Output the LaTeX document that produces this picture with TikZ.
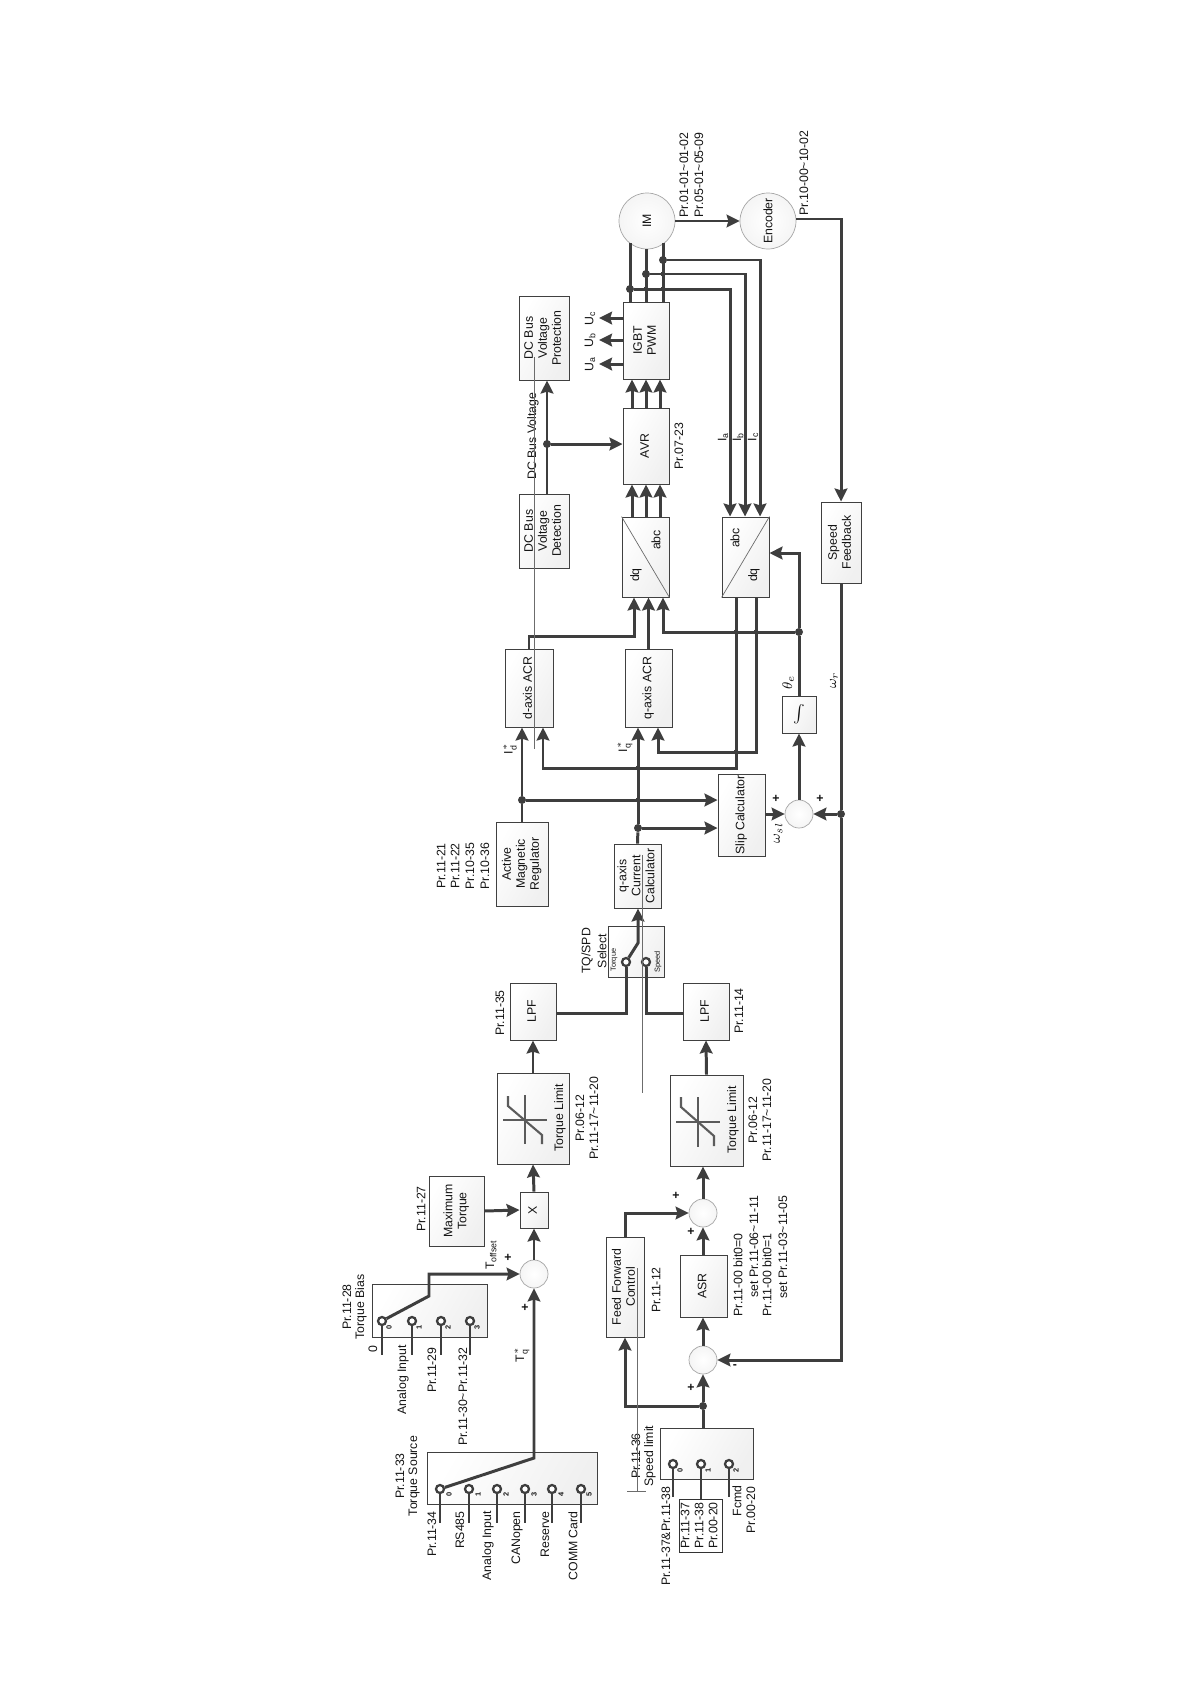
\documentclass[tikz,border=0pt]{standalone}
\usepackage{xcolor}
\usepackage{graphicx}
\usepackage{fontspec}
\setmainfont{Liberation Sans}
\usepackage{tikz}
\usetikzlibrary{arrows.meta, calc}
\definecolor{wiregray}{RGB}{62,62,62}
\definecolor{inkgray}{RGB}{20,20,20}
\newcommand{\fsmain}{\fontsize{7}{8}\selectfont}
\newcommand{\rt}[1]{\rotatebox{90}{\begin{tabular}{@{}c@{}}#1\end{tabular}}}

\begin{document}
\begin{tikzpicture}[
  x=0.02cm, y=-0.02cm,
  sz/.style 2 args={minimum width=#1*0.02cm, minimum height=#2*0.02cm},
  box/.style={rectangle, draw=black!75, line width=0.5pt, left color=white, right color=gray!12, shading angle=60, inner sep=0pt, font=\fsmain, text=inkgray},
  plainbox/.style={rectangle, draw=black!80, line width=0.5pt, fill=white, inner sep=0pt, font=\fsmain, text=inkgray},
  sumnode/.style={circle, draw=gray!70, line width=0.4pt, inner color=white, outer color=gray!8, minimum size=28*0.02cm, inner sep=0pt},
  bigcirc/.style={circle, draw=gray!70, line width=0.4pt, inner color=white, outer color=gray!8, minimum size=56*0.02cm, inner sep=0pt, font=\fsmain, text=inkgray},
  term/.style={circle, draw=wiregray, line width=1.3pt, fill=white, minimum size=8*0.02cm, inner sep=0pt},
  bigdot/.style={circle, fill=wiregray, minimum size=8*0.02cm, inner sep=0pt},
  smalldot/.style={circle, fill=wiregray, minimum size=5*0.02cm, inner sep=0pt},
  lab/.style={rotate=90, font=\fsmain, text=inkgray, inner sep=0pt},
  labe/.style={lab, anchor=east},
  dig/.style={rotate=90, font=\fontsize{4.2}{5}\selectfont\bfseries, text=inkgray, inner sep=0pt},
  sgn/.style={font=\fontsize{7}{8}\selectfont\bfseries, text=inkgray, inner sep=0pt},
  wire/.style={draw=wiregray, line width=1.7pt},
  lead/.style={draw=wiregray, line width=1.4pt},
  arr/.style={wire, -{Stealth[length=7.4pt, width=7.2pt, inset=1pt]}},
  symb/.style={draw=wiregray!85, line width=1.2pt},
  hair/.style={draw=gray!85!black, line width=0.4pt},
]
  \useasboundingbox (0,0) rectangle (1190,1684);

  % Torque source and bias selectors
  \node[box, sz={170}{52}] (tsrc) at (512,1478) {};
  \node[box, sz={115}{53}] (tbias) at (429.5,1310.5) {};
  \node[term] (ts0) at (440,1489) {};
  \node[term] (ts1) at (469,1489) {};
  \node[term] (ts2) at (497,1489) {};
  \node[term] (ts3) at (525,1489) {};
  \node[term] (ts4) at (552,1489) {};
  \node[term] (ts5) at (581,1489) {};
  \node[term] (tb0) at (382,1321) {};
  \node[term] (tb1) at (412,1321) {};
  \node[term] (tb2) at (441,1321) {};
  \node[term] (tb3) at (470,1321) {};
  \coordinate (ps0) at (440,1523);
  \coordinate (ps1) at (469,1523);
  \coordinate (ps2) at (497,1523);
  \coordinate (ps3) at (525,1523);
  \coordinate (ps4) at (552,1523);
  \coordinate (ps5) at (581,1523);
  \coordinate (pb0) at (382,1355);
  \coordinate (pb1) at (412,1355);
  \coordinate (pb2) at (441,1355);
  \coordinate (pb3) at (470,1355);
  \draw[lead] (ts0) -- (ps0);
  \draw[lead] (ts1) -- (ps1);
  \draw[lead] (ts2) -- (ps2);
  \draw[lead] (ts3) -- (ps3);
  \draw[lead] (ts4) -- (ps4);
  \draw[lead] (ts5) -- (ps5);
  \draw[lead] (tb0) -- (pb0);
  \draw[lead] (tb1) -- (pb1);
  \draw[lead] (tb2) -- (pb2);
  \draw[lead] (tb3) -- (pb3);

  \node[dig] (dts0) at (449,1494) {0};
  \node[dig] (dts1) at (478,1494) {1};
  \node[dig] (dts2) at (506,1494) {2};
  \node[dig] (dts3) at (534,1494) {3};
  \node[dig] (dts4) at (561,1494) {4};
  \node[dig] (dts5) at (589,1494) {5};
  \node[dig] (dtb0) at (389,1327) {0};
  \node[dig] (dtb1) at (419,1327) {1};
  \node[dig] (dtb2) at (448,1327) {2};
  \node[dig] (dtb3) at (477,1327) {3};

  \node[lab] (lts1) at (400,1476) {Pr.11-33};
  \node[lab] (lts2) at (414,1476) {Torque Source};
  \node[labe] (lp0) at (432,1511) {Pr.11-34};
  \node[labe] (lp1) at (460,1511) {RS485};
  \node[labe] (lp2) at (488,1511) {Analog Input};
  \node[labe] (lp3) at (517,1511) {CANopen};
  \node[labe] (lp4) at (545,1511) {Reserve};
  \node[labe] (lp5) at (573,1511) {COMM Card};
  \node[lab] (ltb1) at (347,1307) {Pr.11-28};
  \node[lab] (ltb2) at (361,1307) {Torque Bias};
  \node[lab] (lb0) at (373,1349) {0};
  \node[labe] (lb1) at (403,1345) {Analog Input};
  \node[labe] (lb2) at (432,1347) {Pr.11-29};
  \node[labe] (lb3) at (463,1347) {Pr.11-30\textasciitilde Pr.11-32};

  % Torque path
  \node[sumnode] (sumt) at (534,1274) {};
  \node[box, sz={28}{36}] (mul) at (534,1210) {\rt{X}};
  \node[box, sz={55}{70}] (maxq) at (456.5,1211) {\rt{Maximum\\Torque}};
  \node[box, sz={72}{91}] (tlima) at (533,1118.5) {};
  \node[box, sz={46}{57}] (lpfa) at (533,1011.5) {\rt{LPF}};
  \coordinate (tsk) at (534,1458);
  \coordinate (tbk) at (429,1296);
  \coordinate (tbc) at (429,1274);
  \draw[arr] (ts0) -- (tsk) -- (sumt.south);
  \draw[arr] (tb0) -- (tbk) -- (tbc) -- (sumt.west);
  \draw[arr] (sumt.north) -- (mul.south);
  \draw[arr] (maxq.east) -- (mul.west);
  \draw[arr] (mul.north) -- (tlima.south);
  \draw[arr] (tlima.north) -- (lpfa.south);
  \draw[symb] (503,1120) -- (547,1120);
  \draw[symb] (525,1095) -- (525,1144);
  \draw[symb] (508,1096) -- (508,1106) -- (542,1135) -- (542,1144);
  \node[lab] (ltla) at (560,1118) {Torque Limit};
  \node[lab] (lpa1) at (580,1118) {Pr.06-12};
  \node[lab] (lpa2) at (594,1118) {Pr.11-17\textasciitilde 11-20};
  \node[lab] (lmaxq) at (421,1209) {Pr.11-27};
  \node[lab] (llpfa) at (500,1013) {Pr.11-35};
  \node[lab] (ltoff) at (491,1255) {T\textsubscript{offset}};
  \node[lab] (ltq) at (522,1355) {T$^{*}_{\mathrm{q}}$};
  \node[sgn] (sa) at (508,1258) {+};
  \node[sgn] (sb) at (525,1308) {+};

  % Speed path
  \node[box, sz={93}{51}] (spd) at (706.5,1453.5) {};
  \node[term] (sp0) at (673,1464) {};
  \node[term] (sp1) at (701,1464) {};
  \node[term] (sp2) at (729,1464) {};
  \node[plainbox, sz={43}{53}] (slb) at (700.5,1525.5) {\rt{Pr.11-37\\Pr.11-38\\Pr.00-20}};
  \coordinate (ps6) at (673,1497);
  \coordinate (ps8) at (729,1497);
  \draw[lead] (sp0) -- (ps6);
  \draw[lead] (sp1) -- (slb.north -| sp1);
  \draw[lead] (sp2) -- (ps8);
  \node[dig] (dsp0) at (680,1470) {0};
  \node[dig] (dsp1) at (708,1470) {1};
  \node[dig] (dsp2) at (736,1470) {2};
  \node[lab] (lsp1) at (636,1456) {Pr.11-36};
  \node[lab] (lsp2) at (650,1456) {Speed limit};
  \node[labe] (lsp3) at (666,1486) {Pr.11-37\&Pr.11-38};
  \node[lab] (lsp4) at (737,1501) {Fcmd};
  \node[lab] (lsp5) at (751,1510) {Pr.00-20};

  \node[sumnode] (sumb) at (703,1360) {};
  \node[sumnode] (summ) at (703,1213) {};
  \node[box, sz={38}{100}] (ffc) at (625,1287) {\rt{Feed Forward\\Control}};
  \node[box, sz={47}{62}] (asr) at (703.5,1286) {\rt{ASR}};
  \node[box, sz={73}{91}] (tlimb) at (706.5,1120.5) {};
  \node[box, sz={46}{57}] (lpfb) at (706,1011.5) {\rt{LPF}};
  \node[bigdot] (jsp) at (703,1406) {};
  \coordinate (jff) at (625,1406);
  \coordinate (jfo) at (625,1213);
  \draw[wire] (spd.north -| jsp) -- (jsp);
  \draw[arr] (jsp) -- (sumb.south);
  \draw[arr] (jsp) -- (jff) -- (ffc.south);
  \draw[arr] (ffc.north) -- (jfo) -- (summ.west);
  \draw[arr] (sumb.north) -- (asr.south -| sumb);
  \draw[arr] (asr.north -| summ) -- (summ.south);
  \draw[arr] (summ.north) -- (tlimb.south -| summ);
  \draw[arr] (tlimb.north) -- (lpfb.south);
  \draw[symb] (676,1122) -- (720,1122);
  \draw[symb] (698,1097) -- (698,1147);
  \draw[symb] (681,1097) -- (681,1107) -- (714,1136) -- (714,1146);
  \node[lab] (ltlb) at (733,1120) {Torque Limit};
  \node[lab] (lpb1) at (753,1120) {Pr.06-12};
  \node[lab] (lpb2) at (767,1120) {Pr.11-17\textasciitilde 11-20};
  \node[lab] (lffc) at (656,1290) {Pr.11-12};
  \node[labe] (lasr1) at (738,1233) {Pr.11-00 bit0=0};
  \node[labe] (lasr2) at (754,1195) {set Pr.11-06\textasciitilde 11-11};
  \node[labe] (lasr3) at (767,1233) {Pr.11-00 bit0=1};
  \node[labe] (lasr4) at (783,1195) {set Pr.11-03\textasciitilde 11-05};
  \node[lab] (llpfb) at (739,1011) {Pr.11-14};
  \node[sgn] (sc) at (676,1196) {+};
  \node[sgn] (sd) at (691,1232) {+};
  \node[sgn] (se) at (691,1388) {+};
  \node[sgn] (sf) at (735,1367) {-};

  % Mode select
  \node[box, sz={56}{51}] (sel) at (636,951.5) {};
  \node[box, sz={47}{64}] (qcur) at (637.5,876) {\rt{q-axis\\Current\\Calculator}};
  \node[term] (sla) at (626,962) {};
  \node[term] (slb2) at (646,962) {};
  \coordinate (slk) at (638,943);
  \coordinate (slc) at (626,1013);
  \coordinate (sld) at (646,1013);
  \draw[wire] (lpfa.east |- slc) -- (slc) -- (sla);
  \draw[wire] (lpfb.west |- sld) -- (sld) -- (slb2);
  \draw[arr] (sla) -- (slk) -- (qcur.south -| slk);
  \node[lab] (lsel1) at (587,951) {TQ/SPD};
  \node[lab] (lsel2) at (602,951) {Select};
  \node[dig, font=\fontsize{4.2}{5}\selectfont] (lsel3) at (614,960) {Torque};
  \node[dig, font=\fontsize{4.2}{5}\selectfont] (lsel4) at (658,962) {Speed};

  % Current regulators
  \node[box, sz={52}{84}] (amr) at (522,864) {\rt{Active\\Magnetic\\Regulator}};
  \node[box, sz={48}{78}] (dacr) at (529,688) {\rt{d-axis ACR}};
  \node[box, sz={47}{78}] (qacr) at (648.5,688) {\rt{q-axis ACR}};
  \node[box, sz={47}{82}] (slip) at (741.5,815) {\rt{Slip Calculator}};
  \node[sumnode] (sums) at (799,814) {};
  \node[box, sz={34}{37}] (intg) at (799,714.5) {$\scriptstyle\int$};
  \node[bigdot] (jid) at (522,800) {};
  \node[bigdot] (jiq) at (638,828) {};
  \node[smalldot] (jx1) at (638,800) {};
  \node[smalldot] (jx2) at (638,768) {};
  \draw[wire] (amr.north) -- (jid);
  \draw[arr] (jid) -- (dacr.south -| jid);
  \draw[arr] (jid) -- (slip.west |- jid);
  \draw[wire] (qcur.north) -- (jiq);
  \draw[arr] (jiq) -- (qacr.south -| jiq);
  \draw[arr] (jiq) -- (slip.west |- jiq);
  \draw[arr] (slip.east |- sums) -- (sums.west);
  \draw[arr] (sums.north) -- (intg.south);
  \node[lab] (lamr1) at (441,866) {Pr.11-21};
  \node[lab] (lamr2) at (455,866) {Pr.11-22};
  \node[lab] (lamr3) at (470,866) {Pr.10-35};
  \node[lab] (lamr4) at (485,866) {Pr.10-36};
  \node[lab] (lid) at (510,749) {I$^{*}_{\mathrm{d}}$};
  \node[lab] (liq) at (625,747) {I$^{*}_{\mathrm{q}}$};
  \node[lab, font=\fontsize{8.5}{9}\selectfont] (lthe) at (788,682) {$\theta_{e}$};
  \node[lab, font=\fontsize{8.5}{9}\selectfont] (lwr) at (834,680) {$\omega_{r}$};
  \node[lab, font=\fontsize{8.5}{9}\selectfont] (lwsl) at (778,833) {$\omega_{sl}$};
  \node[sgn] (sg) at (776,799) {+};
  \node[sgn] (sh) at (820,799) {+};

  % Conversion stages
  \node[box, sz={47}{80}] (dq) at (645.5,557) {};
  \node[box, sz={47}{80}] (abc) at (745.5,557) {};
  \draw[hair] (dq.north west) -- (dq.south east);
  \draw[hair] (abc.north east) -- (abc.south west);
  \node[lab] (ldq1) at (636,575) {dq};
  \node[lab] (ldq2) at (656,540) {abc};
  \node[lab] (lab1) at (735,538) {abc};
  \node[lab] (lab2) at (754,575) {dq};
  \node[box, sz={46}{76}] (avr) at (646,446) {\rt{AVR}};
  \node[box, sz={46}{77}] (igbt) at (646,340.5) {\rt{IGBT\\PWM}};
  \node[box, sz={50}{74}] (dcd) at (544,531) {\rt{DC Bus\\Voltage\\Detection}};
  \node[box, sz={50}{84}] (dcp) at (544,338) {\rt{DC Bus\\Voltage\\Protection}};
  \node[bigdot] (jdc) at (547,444) {};
  \node[bigdot] (jte) at (799,632) {};
  \node[smalldot] (jy1) at (736,632) {};
  \node[smalldot] (jy2) at (756,632) {};
  \node[smalldot] (jy3) at (736,752) {};
  \coordinate (dout) at (634,636);
  \coordinate (jq3) at (663,632);
  \coordinate (jtf) at (799,553);
  \coordinate (jdf) at (736,768);
  \coordinate (jdb) at (543,768);
  \coordinate (jqf) at (756,752);
  \coordinate (jqb) at (658,752);
  \coordinate (pha) at (632,0);
  \coordinate (phb) at (646,0);
  \coordinate (phc) at (660,0);
  \draw[arr] (dacr.north) |- (dout) -- (dq.south -| dout);
  \draw[arr] (qacr.north) -- (dq.south -| qacr.north);
  \draw[arr] (jte) -- (jq3) -- (dq.south -| jq3);
  \draw[wire] (intg.north) -- (jte);
  \draw[arr] (jte) -- (jtf) -- (abc.east |- jtf);
  \draw[arr] (abc.south -| jdf) -- (jdf) -- (jdb) -- (dacr.south -| jdb);
  \draw[arr] (abc.south -| jqf) -- (jqf) -- (jqb) -- (qacr.south -| jqb);
  \draw[arr] (dq.north -| pha) -- (avr.south -| pha);
  \draw[arr] (dq.north -| phb) -- (avr.south -| phb);
  \draw[arr] (dq.north -| phc) -- (avr.south -| phc);
  \draw[arr] (avr.north -| pha) -- (igbt.south -| pha);
  \draw[arr] (avr.north -| phb) -- (igbt.south -| phb);
  \draw[arr] (avr.north -| phc) -- (igbt.south -| phc);
  \draw[arr] (dcd.north -| jdc) -- (dcp.south -| jdc);
  \draw[arr] (jdc) -- (avr.west |- jdc);
  \node[lab] (ldcv) at (533,436) {DC Bus Voltage};
  \node[lab] (lavr) at (679,446) {Pr.07-23};

  % Motor and encoder
  \node[bigcirc] (im) at (647,221) {\rotatebox{90}{IM}};
  \node[bigcirc] (enc) at (768,221) {\rotatebox{90}{Encoder}};
  \node[box, sz={40}{81}] (sfb) at (841,542.5) {\rt{Speed\\Feedback}};
  \coordinate (ma) at (630,243);
  \coordinate (mb) at (646,249);
  \coordinate (mc) at (663,243);
  \node[bigdot] (ja) at (630,289) {};
  \node[bigdot] (jb) at (646,274) {};
  \node[bigdot] (jc) at (663,260) {};
  \node[smalldot] (jz1) at (646,289) {};
  \node[smalldot] (jz2) at (663,289) {};
  \node[smalldot] (jz3) at (663,274) {};
  \coordinate (ca) at (730,289);
  \coordinate (cb) at (745,274);
  \coordinate (cc) at (760,260);
  \draw[wire] (igbt.north -| ma) -- (ma);
  \draw[wire] (igbt.north -| mb) -- (mb);
  \draw[wire] (igbt.north -| mc) -- (mc);
  \draw[arr] (ja) -- (ca) -- (abc.north -| ca);
  \draw[arr] (jb) -- (cb) -- (abc.north -| cb);
  \draw[arr] (jc) -- (cc) -- (abc.north -| cc);
  \draw[arr] (im.east) -- (enc.west);
  \coordinate (uc) at (599,318);
  \coordinate (ub) at (599,340);
  \coordinate (ua) at (599,364);
  \draw[arr] (igbt.west |- uc) -- (uc);
  \draw[arr] (igbt.west |- ub) -- (ub);
  \draw[arr] (igbt.west |- ua) -- (ua);
  \node[lab] (luc) at (590,318) {U\textsubscript{c}};
  \node[lab] (lub) at (590,340) {U\textsubscript{b}};
  \node[lab] (lua) at (590,364) {U\textsubscript{a}};
  \node[lab] (lia) at (723,437) {I\textsubscript{a}};
  \node[lab] (lib) at (738,437) {I\textsubscript{b}};
  \node[lab] (lic) at (753,437) {I\textsubscript{c}};
  \node[lab] (lim1) at (684,175) {Pr.01-01\textasciitilde 01-02};
  \node[lab] (lim2) at (699,175) {Pr.05-01\textasciitilde 05-09};
  \node[lab] (lenc) at (804,173) {Pr.10-00\textasciitilde 10-02};

  % Speed feedback
  \coordinate (eck) at (841,219);
  \coordinate (fbk) at (841,1360);
  \node[bigdot] (jwr) at (841,814) {};
  \draw[arr] (enc.east |- eck) -- (eck) -- (sfb.north);
  \draw[wire] (sfb.south) -- (jwr);
  \draw[arr] (jwr) -- (fbk) -- (sumb.east);
  \draw[arr] (jwr) -- (sums.east);

  % Stray hairlines
  \coordinate (ha1) at (534,357);
  \coordinate (ha2) at (534,749);
  \coordinate (hb1) at (642,855);
  \coordinate (hb2) at (642,1093);
  \coordinate (hc1) at (637,1268);
  \coordinate (hc2) at (637,1491);
  \coordinate (hd1) at (627,1491);
  \coordinate (hd2) at (646,1491);
  \draw[hair] (ha1) -- (ha2);
  \draw[hair] (hb1) -- (hb2);
  \draw[hair] (hc1) -- (hc2);
  \draw[hair] (hd1) -- (hd2);
\end{tikzpicture}
\end{document}
